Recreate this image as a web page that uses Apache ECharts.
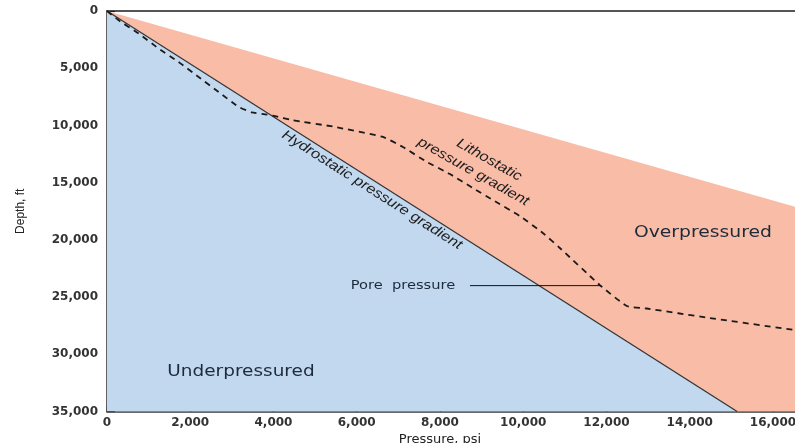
<!DOCTYPE html>
<html>
<head>
<meta charset="utf-8">
<script src="https://cdn.jsdelivr.net/npm/echarts@6/dist/echarts.min.js"></script>
<style>html,body{margin:0;padding:0;background:#fff;overflow:hidden;}#c{width:795px;height:443px;}</style>
</head>
<body>
<div id="c"></div>
<script>
// ---- data ----
const xTicks = [0, 2000, 4000, 6000, 8000, 10000, 12000, 14000, 16000];
const xTickLabels = ['0', '2,000', '4,000', '6,000', '8,000', '10,000', '12,000', '14,000', '16,000'];
const yTicks = [0, 5000, 10000, 15000, 20000, 25000, 30000, 35000];
const yTickLabels = ['0', '5,000', '10,000', '15,000', '20,000', '25,000', '30,000', '35,000'];

// [pressure psi, depth ft]
const hydroLine = [[0, 0], [15140, 35000]];
const lithoLine = [[0, 0], [16530, 17100]];
const porePressure = [
  [0, 0], [271, 787], [752, 1949], [1232, 3260], [1713, 4431], [2193, 5742],
  [2674, 7053], [3154, 8364], [3476, 8854], [3795, 9028], [4036, 9177],
  [4437, 9527], [5430, 10100], [6630, 11010], [7110, 11890], [7690, 13200],
  [8240, 14250], [8790, 15470], [9270, 16520], [9920, 17920], [10470, 19400],
  [10880, 20710], [11840, 23950], [12490, 25780], [12970, 26000], [14480, 26830],
  [16530, 27880]
];
const poreLeader = [[8720, 24000], [11880, 24000]];

const annotations = [
  { at: [6366, 15645], text: 'Hydrostatic pressure gradient', kind: 'slanted', angle: 32.4 },
  { at: [9183, 13023], text: 'Lithostatic', kind: 'slanted', angle: 29.5 },
  { at: [8799, 14045], text: 'pressure gradient', kind: 'slanted', angle: 29.5 },
  { at: [14317, 19403], text: 'Overpressured', kind: 'region', stretch: 1.25 },
  { at: [3219, 31551], text: 'Underpressured', kind: 'region', stretch: 1.23 },
  { at: [7110, 24000], text: 'Pore  pressure', kind: 'small' }
];

const X_MAX = 16530, Y_MAX = 35000;

const chart = echarts.init(document.getElementById('c'), null, { renderer: 'canvas' });

function polygonSeries(name, pointsFn, color, z) {
  return {
    type: 'custom', name: name, z: z, clip: true, silent: true,
    xAxisIndex: 0, yAxisIndex: 0,
    data: [[0, 0]],
    renderItem: function (params, api) {
      const pts = pointsFn().map(p => api.coord(p));
      return { type: 'polygon', shape: { points: pts }, style: { fill: color, stroke: 'none' } };
    }
  };
}

const option = {
  animation: false,
  backgroundColor: '#ffffff',
  grid: { left: 107, right: 0, top: 11, bottom: 31.5, containLabel: false, outerBoundsMode: 'none' },
  xAxis: [{
    type: 'value', min: 0, max: X_MAX, interval: 2000, position: 'bottom',
    name: 'Pressure, psi', nameLocation: 'middle', nameGap: 20,
    nameTextStyle: { fontFamily: 'DejaVu Sans', fontSize: 13, color: '#222', padding: [0, 22, 0, 0] },
    axisLine: { show: true, onZero: false, lineStyle: { color: '#3a3a3a', width: 1.6 } },
    axisTick: { show: true, inside: true, length: 5, lineStyle: { color: '#222', width: 1.4 } },
    axisLabel: {
      margin: 5, fontFamily: 'DejaVu Sans', fontWeight: 'bold', fontSize: 12, color: '#333',
      showMaxLabel: false,
      formatter: v => { const i = xTicks.indexOf(v); return i >= 0 ? xTickLabels[i] : ''; }
    },
    splitLine: { show: false }
  }, {
    type: 'value', min: 0, max: X_MAX, position: 'top',
    axisLine: { show: true, onZero: false, lineStyle: { color: '#555', width: 2 } },
    axisTick: { show: false }, axisLabel: { show: false }, splitLine: { show: false }
  }],
  yAxis: [{
    type: 'value', min: 0, max: Y_MAX, interval: 5000, inverse: true,
    name: 'Depth, ft', nameLocation: 'middle', nameGap: 80,
    nameTextStyle: { fontFamily: "'Liberation Sans', Arial, sans-serif", fontSize: 12, color: '#222' },
    axisLine: { show: true, onZero: false, lineStyle: { color: '#3a3a3a', width: 1.6 } },
    axisTick: { show: true, inside: true, length: 8, lineStyle: { color: '#222', width: 1.2 } },
    axisLabel: {
      margin: 9, fontFamily: 'DejaVu Sans', fontWeight: 'bold', fontSize: 12, color: '#333',
      formatter: v => { const i = yTicks.indexOf(v); return i >= 0 ? yTickLabels[i] : ''; }
    },
    splitLine: { show: false }
  }],
  series: [
    polygonSeries('overpressured', () => [lithoLine[0], lithoLine[1], [X_MAX, Y_MAX], hydroLine[1]], '#f9bca7', 1),
    polygonSeries('underpressured', () => [hydroLine[0], hydroLine[1], [0, Y_MAX]], '#c2d8ef', 2),
    {
      type: 'line', name: 'Hydrostatic', data: hydroLine, symbol: 'none', z: 3, silent: true,
      lineStyle: { color: '#333', width: 1.2 }
    },
    {
      type: 'line', name: 'Pore pressure', data: porePressure, symbol: 'none', z: 4, silent: true,
      smooth: 0.15,
      lineStyle: { color: '#1a1a1a', width: 1.8, type: [6, 5] }
    },
    {
      type: 'line', name: 'leader', data: poreLeader, symbol: 'none', z: 4, silent: true,
      lineStyle: { color: '#111', width: 1 }
    },
    {
      type: 'custom', name: 'labels', z: 5, silent: true, clip: false,
      data: annotations.map(a => a.at),
      renderItem: function (params, api) {
        const a = annotations[params.dataIndex];
        const pt = api.coord(a.at);
        let style;
        let scaleX = 1;
        let rotation = 0;
        if (a.kind === 'slanted') {
          style = { text: a.text, fontFamily: "'Liberation Sans', Arial, sans-serif",
                    fontStyle: 'italic', fontSize: 14, fill: '#1e1e1e', align: 'center', verticalAlign: 'middle' };
          rotation = -a.angle * Math.PI / 180;
          scaleX = 1.15;
        } else if (a.kind === 'region') {
          style = { text: a.text, fontFamily: 'DejaVu Sans', fontSize: 15, fill: '#1d2a3a', align: 'center', verticalAlign: 'middle' };
          scaleX = a.stretch;
        } else {
          style = { text: a.text, fontFamily: 'DejaVu Sans', fontSize: 12, fill: '#1d2a3a', align: 'center', verticalAlign: 'middle' };
          scaleX = 1.22;
        }
        return { type: 'text', x: pt[0], y: pt[1], rotation: rotation, scaleX: scaleX, style: style };
      }
    }
  ]
};
chart.setOption(option);
</script>
</body>
</html>
